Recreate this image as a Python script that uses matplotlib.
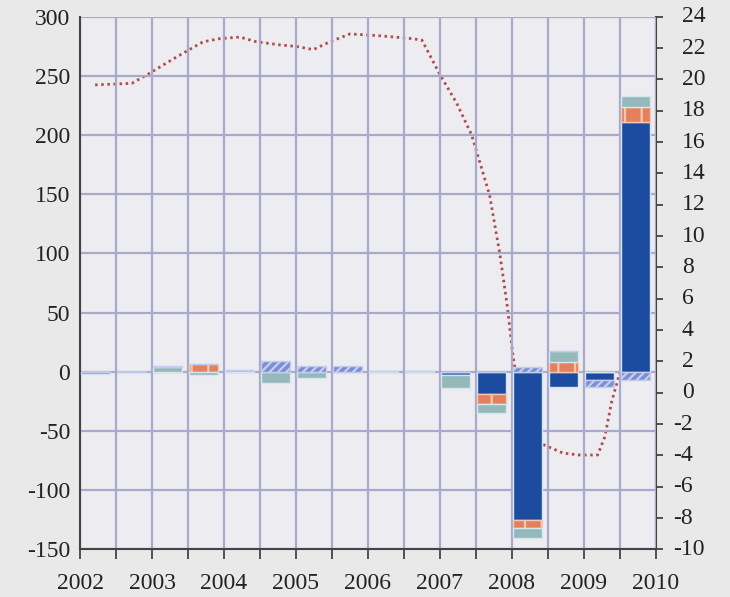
import numpy as np
import matplotlib
matplotlib.use("Agg")
import matplotlib.pyplot as plt
from matplotlib.ticker import MultipleLocator

plt.rcParams["font.family"] = ["Liberation Serif", "DejaVu Serif"]
plt.rcParams["axes.unicode_minus"] = False
plt.rcParams["hatch.linewidth"] = 1.6

# half-year periods (start of each half)
periods = [2002.0, 2002.5, 2003.0, 2003.5, 2004.0, 2004.5, 2005.0, 2005.5,
           2006.0, 2006.5, 2007.0, 2007.5, 2008.0, 2008.5, 2009.0, 2009.5]

# stacked components (left axis)
comp_a = [-2, 0, 0, 0, 0, 0, 0, 0, 0, 0, -3, -19, -125, -13, -7, 211]
comp_b = [0, 0, 0, 7, 0, 0, 0, 0, 0, 0, 0, -8, -7, 8, 0, 13]
comp_c = [0, 0, 4, -3, 2, -9, -5, 0, 1, 1, -11, -8, -8, 10, 0, 9]
comp_d = [0, 0, 1, 0, 0, 9, 5, 5, 0, 0, 0, 0, 4, 0, -6, -7]

# dotted line (right axis)
line_x = [2002.21, 2002.72, 2002.97, 2003.22, 2003.48, 2003.71, 2003.94, 2004.22,
          2004.45, 2004.78, 2005.01, 2005.24, 2005.47, 2005.75, 2006.12, 2006.62,
          2006.75, 2007.0, 2007.23, 2007.44, 2007.69, 2007.83, 2007.93, 2008.01,
          2008.08, 2008.43, 2008.71, 2008.94, 2009.19, 2009.29, 2009.38, 2009.5]
line_y = [19.65, 19.75, 20.4, 21.1, 21.8, 22.4, 22.6, 22.7,
          22.4, 22.2, 22.1, 21.9, 22.4, 22.9, 22.8, 22.6,
          22.5, 20.3, 18.5, 16.45, 12.6, 8.9, 5.7, 2.5,
          0.4, -3.3, -3.85, -3.97, -3.97, -2.8, -0.66, 1.35]

years = [2002, 2003, 2004, 2005, 2006, 2007, 2008, 2009, 2010]
right_ticks = [24, 22, 20, 18, 16, 14, 12, 10, 8, 6, 4, 2, 0,
               -2, -4, -6, -8, -10]

BG = "#e9e9e9"
PLOT_BG = "#ececf1"
GRID = "#a9a9cc"
AXIS = "#444444"
FS = 17

fig = plt.figure(figsize=(7.3, 5.97), dpi=100, facecolor=BG)
ax2 = fig.add_axes([0.1096, 0.0796, 0.7890, 0.8924])
ax = fig.add_axes([0.1096, 0.0796, 0.7890, 0.8924], sharex=ax2)
ax2.set_facecolor(PLOT_BG)
ax.patch.set_visible(False)

# line on back axes (right scale), so the bars cover it
ax2.plot(line_x, line_y, color="#b24a4a", lw=2.0, linestyle=(0, (0.9, 1.3)),
         zorder=1)
ax2.set_ylim(-10, 24)
ax2.yaxis.tick_right()
ax2.set_yticks(right_ticks)
ax2.set_yticklabels([])
ax2.tick_params(axis="y", direction="out", length=5, width=1.3, color=AXIS)
ax2.tick_params(axis="x", which="both", bottom=False, labelbottom=False)
for s in ["left", "top", "bottom"]:
    ax2.spines[s].set_visible(False)
ax2.spines["right"].set_color(AXIS)
ax2.spines["right"].set_linewidth(1.5)
# digits line up on the left, minus sign hangs out
for v in right_ticks:
    txt = str(v) if v >= 0 else "-" + str(abs(v))
    off = 18.5 if v >= 0 else 12.0
    ax2.annotate(txt, xy=(1, v), xycoords=("axes fraction", "data"),
                 xytext=(off, 0), textcoords="offset points",
                 ha="left", va="center", fontsize=FS, color="#222222",
                 annotation_clip=False)

# stacked bars on front axes (left scale)
styles = [
    dict(color="#1b4ca0", edgecolor="#d3e5f7", hatch=None),
    dict(color="#e4815c", edgecolor="#f6c7b0", hatch="|"),
    dict(color="#95b8bb", edgecolor="#d5e8ec", hatch=None),
    dict(color="#7d8ecf", edgecolor="#c3cdf0", hatch="////"),
]
pos_base = np.zeros(len(periods))
neg_base = np.zeros(len(periods))
x = np.array(periods) + 0.012
for vals, st in zip([comp_a, comp_b, comp_c, comp_d], styles):
    v = np.array(vals, dtype=float)
    bottom = np.where(v >= 0, pos_base, neg_base)
    ax.bar(x, v, width=0.4, bottom=bottom, align="edge",
           facecolor=st["color"], edgecolor=st["edgecolor"],
           hatch=st["hatch"], linewidth=1.0, zorder=3)
    pos_base = pos_base + np.where(v > 0, v, 0)
    neg_base = neg_base + np.where(v < 0, v, 0)

ax.set_xlim(2002, 2010)
ax.set_ylim(-150, 300)
ax.yaxis.set_major_locator(MultipleLocator(50))
ax.set_xticks(years)
ax.set_xticklabels([str(y) for y in years])
ax.xaxis.set_minor_locator(MultipleLocator(0.5))
ax.grid(True, which="both", axis="x", color=GRID, lw=1.6, zorder=0)
ax.grid(True, which="major", axis="y", color=GRID, lw=1.6, zorder=0)
ax.set_axisbelow(True)
ax.tick_params(axis="x", which="both", direction="out", length=7, width=1.3,
               color=AXIS, pad=10, labelsize=FS, labelcolor="#222222")
ax.tick_params(axis="y", direction="out", length=0, pad=7, labelsize=FS,
               labelcolor="#222222")
ax.spines["top"].set_visible(False)
ax.spines["right"].set_visible(False)
ax.spines["left"].set_color(AXIS)
ax.spines["left"].set_linewidth(1.5)
ax.spines["bottom"].set_color(AXIS)
ax.spines["bottom"].set_linewidth(1.5)

fig.savefig("out.png", dpi=100, facecolor=BG)
